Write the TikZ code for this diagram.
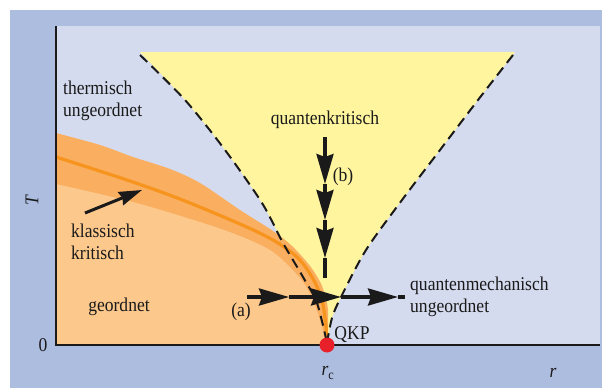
\documentclass[tikz,border=0pt]{standalone}
\usepackage{fontspec}
\setmainfont{Liberation Serif}[FakeStretch=0.9]
\usetikzlibrary{arrows.meta}
\definecolor{outerblue}{HTML}{ADBDE0}
\definecolor{panelblue}{HTML}{D5DBEE}
\definecolor{qyellow}{HTML}{FEF59E}
\definecolor{ordlight}{HTML}{FCC88C}
\definecolor{bandorange}{HTML}{F9AE60}
\definecolor{lineorange}{HTML}{F7941E}
\definecolor{ink}{HTML}{1A1A1A}
\definecolor{qkpred}{HTML}{E8202A}
\begin{document}
\begin{tikzpicture}[x=1pt,y=-1pt,
  lbl/.style={inner sep=0pt, font=\fontsize{19.5}{22}\selectfont, text=ink},
  flow/.style={line width=3.2pt, draw=ink, -{Stealth[length=30pt,width=17pt,inset=3pt]}},
  flowline/.style={line width=3.2pt, draw=ink},
  smallflow/.style={line width=3pt, draw=ink, -{Stealth[length=23pt,width=14pt,inset=2pt]}},
  crossover/.style={draw=ink, line width=2pt, dash pattern=on 10pt off 6pt},
  axisline/.style={draw=ink, line width=1.6pt}]

\useasboundingbox (0,0) rectangle (602,388);
\fill[white] (0,0) rectangle (602,388);
\fill[outerblue] (10,10) rectangle (602,388);
\fill[panelblue] (56,26) rectangle (600,345);

% quantum critical fan
\fill[qyellow] (140,52) -- (515,52)
  -- plot[smooth] coordinates {(515,52) (478,100) (440,150) (402,200) (366,250) (341,297) (332,318) (327,343)}
  -- plot[smooth] coordinates {(327,343) (317,303) (303,277) (283,243) (262,203) (225,150) (185,100) (140,52)}
  -- cycle;

% classical critical band
\fill[bandorange] (56,345) -- (56,133)
  -- plot[smooth] coordinates {(56,133) (100,145) (133,157) (170,169) (200,183) (240,210) (273,231) (292,246) (310,266) (322,286) (328,310) (327,345)}
  -- cycle;
\fill[ordlight] (56,345) -- (56,184)
  -- plot[smooth] coordinates {(56,184) (133,202) (200,222) (240,236) (273,252) (300,278) (313,300) (322,327) (326,345)}
  -- cycle;
\draw[lineorange, line width=3.2pt] plot[smooth] coordinates {(56,157) (127,180) (180,199) (240,224) (273,240) (297,257) (312,277) (322,300) (326,327) (327,345)};

% crossover lines
\draw[crossover] plot[smooth] coordinates {(140,55) (185,100) (225,150) (262,203) (283,243) (303,277) (317,303) (327,343)};
\draw[crossover] plot[smooth] coordinates {(513,55) (478,100) (440,150) (402,200) (366,250) (341,297) (332,318) (327,343)};

% axes
\coordinate (ytop) at (56,26);
\coordinate (origin) at (56,345);
\coordinate (xend) at (600,345);
\draw[axisline] (ytop) -- (origin) -- (xend);

% path (a)
\coordinate (a0) at (247,297);
\coordinate (a1) at (289,297);
\coordinate (a2) at (341,297);
\coordinate (a3) at (398,297);
\coordinate (a4) at (405,297);
\draw[flow] (a0) -- (a1);
\draw[flow] (a1) -- (a2);
\draw[flow] (a2) -- (a3);
\draw[flowline] (a3) -- (a4);

% path (b)
\coordinate (b0) at (325,137);
\coordinate (b1) at (325,184);
\coordinate (b2) at (325,220);
\coordinate (b3) at (325,258);
\coordinate (b4) at (325,278);
\draw[flow] (b0) -- (b1);
\draw[flow] (b1) -- (b2);
\draw[flow] (b2) -- (b3);
\draw[flowline] (b3) -- (b4);

% pointer to classical line
\coordinate (k0) at (85,213);
\coordinate (k1) at (142,190);
\draw[smallflow] (k0) -- (k1);

% QCP
\node[circle, fill=qkpred, minimum size=15pt, inner sep=0pt] (qkp) at (327,345) {};

% labels
\node[lbl, align=left, anchor=west] (therm) at (63,101) {thermisch\\ungeordnet};
\node[lbl] (qk) at (325,120) {quantenkritisch};
\node[lbl] (blab) at (343,177) {(b)};
\node[lbl, align=left, anchor=west] (klass) at (71,242) {klassisch\\kritisch};
\node[lbl] (geord) at (119,307) {geordnet};
\node[lbl] (alab) at (241,312) {(a)};
\node[lbl, align=left, anchor=west] (qm) at (410,297) {quantenmechanisch\\ungeordnet};
\node[lbl] (qkplab) at (352,335) {QKP};
\node[lbl] (zero) at (43,345) {0};
\node[lbl, rotate=90] (Tlab) at (32,200) {\textit{T}};
\node[lbl] (rclab) at (328,373) {\textit{r}\textsubscript{c}};
\node[lbl] (rlab) at (553,373) {\textit{r}};
\end{tikzpicture}
\end{document}
